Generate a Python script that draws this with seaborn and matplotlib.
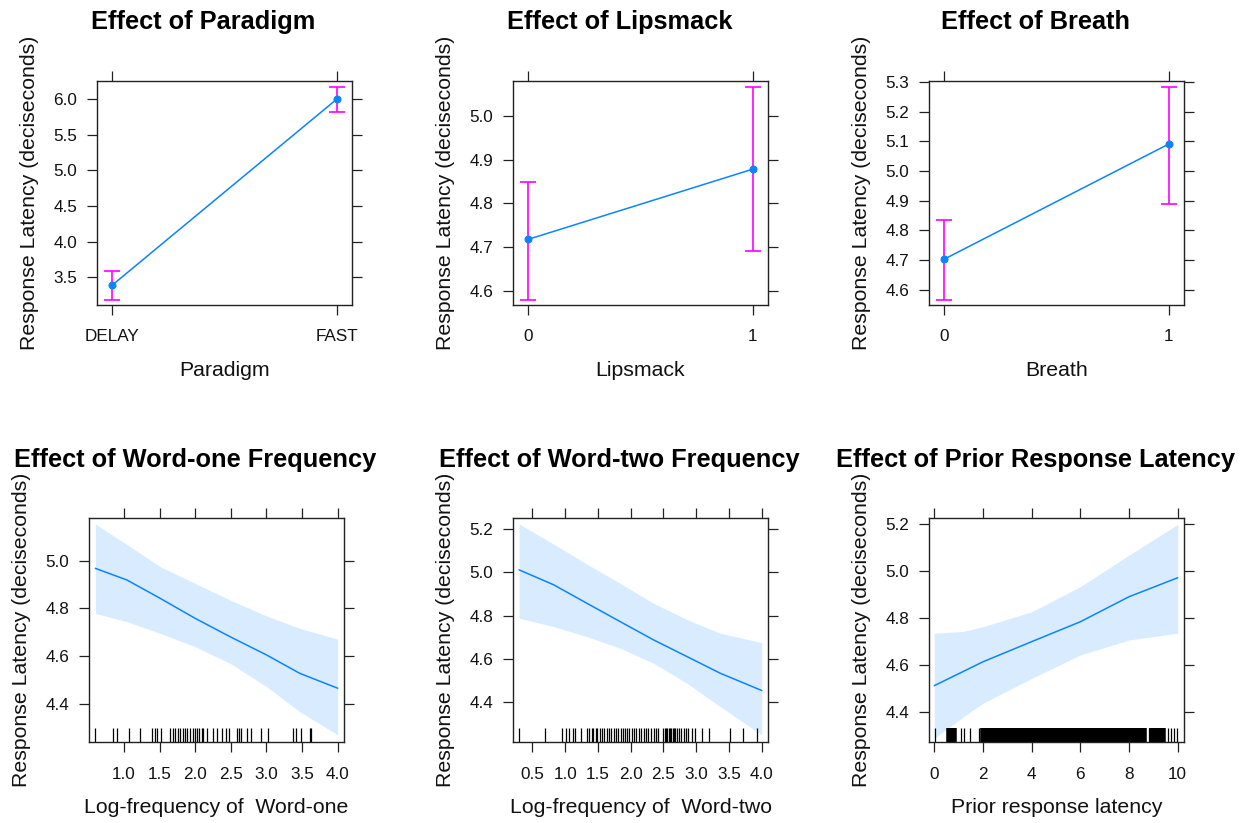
import numpy as np
import pandas as pd
import matplotlib
matplotlib.use("Agg")
import matplotlib.pyplot as plt
import seaborn as sns

# ---------------- data ----------------
ylabel_text = "Response Latency (deciseconds)"

paradigm_levels = ["DELAY", "FAST"]
paradigm_fit = [3.392, 6.000]
paradigm_lower = [3.183, 5.822]
paradigm_upper = [3.593, 6.177]

lipsmack_levels = ["0", "1"]
lipsmack_fit = [4.718, 4.878]
lipsmack_lower = [4.579, 4.692]
lipsmack_upper = [4.849, 5.066]

breath_levels = ["0", "1"]
breath_fit = [4.703, 5.091]
breath_lower = [4.566, 4.889]
breath_upper = [4.835, 5.285]

w1_x = [0.598, 1.042, 1.509, 2.0, 2.49, 3.005, 3.47, 4.0]
w1_fit = [4.968, 4.919, 4.842, 4.758, 4.681, 4.604, 4.527, 4.465]
w1_upper = [5.154, 5.068, 4.975, 4.905, 4.835, 4.768, 4.716, 4.671]
w1_lower = [4.779, 4.744, 4.695, 4.639, 4.569, 4.471, 4.366, 4.269]
w1_rug = [0.59, 0.84, 0.90, 1.07, 1.23, 1.40, 1.44, 1.47, 1.52, 1.65, 1.69,
          1.72, 1.76, 1.79, 1.83, 1.86, 1.89, 1.93, 1.97, 2.00, 2.02, 2.05,
          2.09, 2.11, 2.16, 2.25, 2.30, 2.38, 2.43, 2.47, 2.59, 2.61, 2.64,
          2.73, 2.78, 2.93, 3.02, 3.37, 3.42, 3.48, 3.61, 3.63]

w2_x = [0.297, 0.825, 1.33, 1.84, 2.347, 2.857, 3.365, 4.0]
w2_fit = [5.011, 4.942, 4.857, 4.772, 4.688, 4.611, 4.534, 4.454]
w2_upper = [5.223, 5.130, 5.038, 4.949, 4.857, 4.782, 4.719, 4.675]
w2_lower = [4.788, 4.749, 4.703, 4.649, 4.580, 4.488, 4.380, 4.249]
w2_rug = [0.30, 0.69, 0.95, 1.01, 1.06, 1.12, 1.15, 1.24, 1.33, 1.37, 1.41,
          1.43, 1.47, 1.49, 1.53, 1.56, 1.60, 1.64, 1.67, 1.70, 1.74, 1.78,
          1.81, 1.85, 1.89, 1.92, 1.95, 1.98, 2.02, 2.05, 2.08, 2.12, 2.15,
          2.20, 2.24, 2.27, 2.31, 2.35, 2.38, 2.42, 2.50, 2.52, 2.54, 2.56,
          2.58, 2.60, 2.62, 2.64, 2.66, 2.68, 2.70, 2.73, 2.77, 2.81, 2.85,
          2.88, 2.93, 2.98, 3.09, 3.20, 3.52, 3.72, 3.93]

prior_x = [0.0, 2.0, 4.0, 6.0, 8.0, 10.0]
prior_fit = [4.511, 4.613, 4.699, 4.784, 4.891, 4.972]
prior_band_x = [0.0, 1.2, 2.0, 4.0, 6.0, 8.0, 10.0]
prior_upper = [4.735, 4.743, 4.763, 4.827, 4.934, 5.069, 5.200]
prior_lower = [4.286, 4.378, 4.436, 4.542, 4.642, 4.706, 4.735]
prior_rug_sparse = [0.04, 1.10, 1.20, 1.48, 1.82, 1.93, 8.81, 9.60, 9.74,
                    9.84, 9.98]
prior_rug_dense = [0.60, 0.65, 0.70, 0.75, 0.79,
                   2.00, 2.10, 2.20, 2.30, 2.40, 2.50, 2.60, 2.70, 2.80,
                   2.90, 3.00, 3.10, 3.20, 3.30, 3.40, 3.50, 3.60, 3.70,
                   3.80, 3.90, 4.00, 4.10, 4.20, 4.30, 4.40, 4.50, 4.60,
                   4.70, 4.80, 4.90, 5.00, 5.10, 5.20, 5.30, 5.40, 5.50,
                   5.60, 5.70, 5.80, 5.90, 6.00, 6.10, 6.20, 6.30, 6.40,
                   6.50, 6.60, 6.70, 6.80, 6.90, 7.00, 7.10, 7.20, 7.30,
                   7.40, 7.50, 7.60, 7.70, 7.80, 7.90, 8.00, 8.10, 8.20,
                   8.30, 8.40, 8.50, 8.60, 8.93, 9.00, 9.05, 9.15, 9.22,
                   9.30, 9.38]

# tick values
paradigm_yticks = [3.5, 4.0, 4.5, 5.0, 5.5, 6.0]
lipsmack_yticks = [4.6, 4.7, 4.8, 4.9, 5.0]
breath_yticks = [4.6, 4.7, 4.8, 4.9, 5.0, 5.1, 5.2, 5.3]
w1_xticks = [1.0, 1.5, 2.0, 2.5, 3.0, 3.5, 4.0]
w1_yticks = [4.4, 4.6, 4.8, 5.0]
w2_xticks = [0.5, 1.0, 1.5, 2.0, 2.5, 3.0, 3.5, 4.0]
w2_yticks = [4.4, 4.6, 4.8, 5.0, 5.2]
prior_xticks = [0, 2, 4, 6, 8, 10]
prior_yticks = [4.4, 4.6, 4.8, 5.0, 5.2]

# ---------------- style ----------------
sns.set_theme(style="ticks")
plt.rcParams["font.family"] = ["Liberation Sans", "DejaVu Sans"]
plt.rcParams["axes.edgecolor"] = "#222222"
plt.rcParams["axes.linewidth"] = 1.0

LINE = "#0a84ff"
BAR = "#ff00ff"
W, H = 1249, 823

fig = plt.figure(figsize=(W / 100, H / 100), dpi=100)


def make_ax(x0, x1, y0, y1):
    return fig.add_axes([x0 / W, 1 - y1 / H, (x1 - x0) / W, (y1 - y0) / H])


def finish(ax, title, xlabel, xlim, ylim, xticks, xticklabels, yticks, yfmt):
    ax.set_xlim(*xlim)
    ax.set_ylim(*ylim)
    ax.set_xticks(xticks)
    ax.set_xticklabels(xticklabels)
    ax.set_yticks(yticks)
    ax.set_yticklabels([yfmt % v for v in yticks])
    ax.tick_params(direction="out", length=7, width=0.9, color="#222222",
                   top=True, right=True, labeltop=False, labelright=False,
                   labelsize=12.3, labelcolor="#111111")
    ax.tick_params(axis="x", pad=10.5)
    ax.tick_params(axis="y", pad=7)
    for s in ax.spines.values():
        s.set_visible(True)
        s.set_color("#222222")
    bw = ax.get_position().width * W
    bh = ax.get_position().height * H
    ax.set_title(title, x=0.5 - 21 / bw, y=1 + 43 / bh, fontsize=18.3,
                 fontweight="bold", va="baseline", color="black")
    ax.set_xlabel(xlabel, fontsize=15.3, va="center", color="#111111")
    ax.xaxis.set_label_coords(0.5, -65 / bh)
    ax.set_ylabel(ylabel_text, fontsize=15.3, va="center", color="#111111")
    ax.yaxis.set_label_coords(-67 / bw, 0.5)
    ax.grid(False)


def factor_panel(ax, levels, fit, lower, upper):
    pos = list(range(len(levels)))
    df = pd.DataFrame({"pos": pos, "fit": fit})
    err = [np.array(fit) - np.array(lower), np.array(upper) - np.array(fit)]
    ax.errorbar(pos, fit, yerr=err, fmt="none", ecolor=BAR, elinewidth=1.2,
                capsize=6, capthick=1.2, zorder=2)
    sns.lineplot(data=df, x="pos", y="fit", ax=ax, color=LINE, lw=1.1,
                 marker="o", markersize=5, markeredgecolor=LINE, zorder=3)
    return pos


def smooth_panel(ax, x, fit, bx, lower, upper, rugs):
    ax.fill_between(bx, lower, upper, color="#0080ff", alpha=0.15, lw=0,
                    zorder=1)
    sns.lineplot(x=x, y=fit, ax=ax, color=LINE, lw=1.1, zorder=3)
    for vals, lw in rugs:
        sns.rugplot(x=vals, ax=ax, height=0.062, color="black", linewidth=lw,
                    expand_margins=False, zorder=2)


# ---- top row ----
ax1 = make_ax(96.7, 352.3, 80.7, 305)
p = factor_panel(ax1, paradigm_levels, paradigm_fit, paradigm_lower, paradigm_upper)
finish(ax1, "Effect of Paradigm", "Paradigm", (-0.07, 1.07), (3.111, 6.261),
       p, paradigm_levels, paradigm_yticks, "%.1f")

ax2 = make_ax(512.7, 768.3, 80.7, 305)
p = factor_panel(ax2, lipsmack_levels, lipsmack_fit, lipsmack_lower, lipsmack_upper)
finish(ax2, "Effect of Lipsmack", "Lipsmack", (-0.07, 1.07), (4.568, 5.080),
       p, lipsmack_levels, lipsmack_yticks, "%.1f")

ax3 = make_ax(928.7, 1184.3, 80.7, 305)
p = factor_panel(ax3, breath_levels, breath_fit, breath_lower, breath_upper)
finish(ax3, "Effect of Breath", "Breath", (-0.07, 1.07), (4.548, 5.305),
       p, breath_levels, breath_yticks, "%.1f")

# ---- bottom row ----
ax4 = make_ax(88.7, 344.3, 518.3, 742.3)
smooth_panel(ax4, w1_x, w1_fit, w1_x, w1_lower, w1_upper, [(w1_rug, 0.9)])
finish(ax4, "Effect of Word-one Frequency", "Log-frequency of  Word-one",
       (0.505, 4.093), (4.238, 5.178), w1_xticks,
       ["%.1f" % v for v in w1_xticks], w1_yticks, "%.1f")

ax5 = make_ax(512.7, 768.3, 518.3, 742.3)
smooth_panel(ax5, w2_x, w2_fit, w2_x, w2_lower, w2_upper, [(w2_rug, 0.9)])
finish(ax5, "Effect of Word-two Frequency", "Log-frequency of  Word-two",
       (0.20, 4.10), (4.215, 5.249), w2_xticks,
       ["%.1f" % v for v in w2_xticks], w2_yticks, "%.1f")

ax6 = make_ax(928.7, 1184.3, 518.3, 742.3)
smooth_panel(ax6, prior_x, prior_fit, prior_band_x, prior_lower, prior_upper,
             [(prior_rug_sparse, 0.9), (prior_rug_dense, 4.0)])
finish(ax6, "Effect of Prior Response Latency", "Prior response latency",
       (-0.23, 10.27), (4.269, 5.226), prior_xticks,
       ["%d" % v for v in prior_xticks], prior_yticks, "%.1f")

fig.savefig("out.png", dpi=100, facecolor="white")
